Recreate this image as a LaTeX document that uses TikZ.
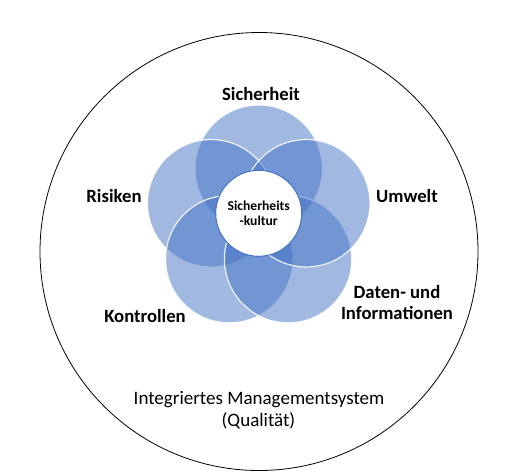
\documentclass[tikz,border=0pt]{standalone}
\usepackage{fontspec}
\setmainfont{Carlito}
\definecolor{accent}{HTML}{4472C4}
\begin{document}
\begin{tikzpicture}[x=1pt,y=-1pt,
  petal/.style={circle,inner sep=0pt,minimum size=127.4pt,fill=accent,fill opacity=0.5,draw=white,draw opacity=0.85,line width=1.2pt},
  core/.style={circle,inner sep=0pt,minimum size=86pt,fill=white,draw=accent,line width=1pt},
  lbl/.style={anchor=base,font=\fontsize{18.7}{22.5}\selectfont\bfseries,align=center},
  clbl/.style={anchor=center,font=\fontsize{13.6}{15.5}\selectfont\bfseries,align=center},
  outer/.style={circle,inner sep=0pt,minimum size=438pt,draw=black,line width=0.8pt},
  foot/.style={anchor=base,font=\fontsize{19}{23}\selectfont,align=center}]
\useasboundingbox (0,0) rectangle (518,472);
\node[outer] (ims) at (259,251.5) {};
\node[petal] (p1) at (258.7,168.7) {};
\node[petal] (p2) at (211.15,203.25) {};
\node[petal] (p3) at (229.3,259.15) {};
\node[petal] (p4) at (288.1,259.15) {};
\node[petal] (p5) at (306.25,203.25) {};
\node[core] (kern) at (258.7,213.3) {};
\node[clbl] (kt) at (258.7,213.3) {Sicherheits\\-kultur};
\node[lbl] (l1) at (261,100) {Sicherheit};
\node[lbl] (l2) at (114,202) {Risiken};
\node[lbl] (l3) at (407,202.5) {Umwelt};
\node[lbl] (l4) at (145,322) {Kontrollen};
\node[lbl] (l5a) at (397,298.3) {Daten- und};
\node[lbl] (l5b) at (397,319) {Informationen};
\node[foot] (f1) at (259,404) {Integriertes Managementsystem};
\node[foot] (f2) at (258.5,426) {(Qualität)};
\end{tikzpicture}
\end{document}
